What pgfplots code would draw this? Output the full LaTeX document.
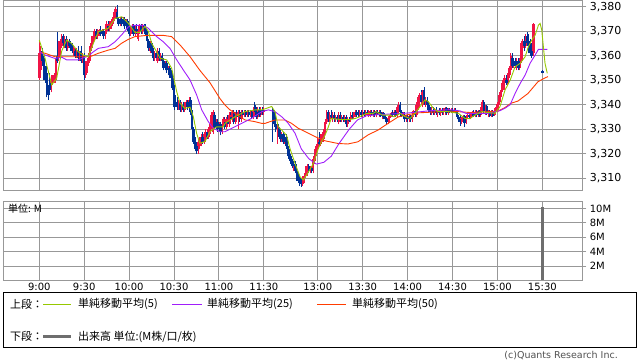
\documentclass[border=0pt]{standalone}
\usepackage{fontspec}
\usepackage{pgfplots}
\usepackage{pgfplotstable}
\pgfplotsset{compat=1.18}
\setmainfont{DejaVu Sans}
\newfontfamily\cjk{Noto Sans CJK JP}
\definecolor{cup}{RGB}{240,20,70}
\definecolor{cdown}{RGB}{0,50,150}
\definecolor{ma5}{RGB}{150,200,0}
\definecolor{ma25}{RGB}{160,30,250}
\definecolor{ma50}{RGB}{255,60,0}
\definecolor{gridc}{RGB}{152,152,152}
\definecolor{volc}{RGB}{110,110,110}
\definecolor{copyc}{RGB}{80,80,80}

\pgfplotstableread{
t o h l c
0 3351 3366 3350 3361
1 3354 3364 3352 3362
2 3362 3363 3356 3358
3 3359 3360 3350 3351
4 3352 3356 3349 3350
5 3353 3356 3343 3345
6 3346 3348 3342 3344
7 3349 3353 3344 3346
8 3347 3352 3345 3350
9 3349 3352 3348 3351
10 3350 3353 3349 3352
11 3350 3359 3349 3358
12 3360 3369.5 3357 3358
13 3359 3366 3358 3365
14 3361 3367 3360 3366
15 3364 3369 3363 3368
16 3368 3369 3364 3365
17 3364 3368 3363 3367
18 3367 3368 3362 3363
19 3363 3367 3362 3366
20 3366 3367 3363 3364
21 3365 3366 3362 3363
22 3363 3365 3361 3362
23 3362 3364 3360 3363
24 3362 3363 3359 3360
25 3360 3363 3359 3362
26 3362 3364 3358 3359
27 3359 3362 3358 3361
28 3362 3364 3357 3358
29 3358 3361 3357 3360
30 3360 3361 3350 3352
31 3352 3358 3351 3356
32 3355 3359 3353 3358
33 3357 3361 3356 3360
34 3359 3365 3358 3364
35 3363 3368 3362 3367
36 3366 3369 3365 3368
37 3367 3371 3366 3370
38 3370 3371 3367 3368
39 3368 3371 3367 3370
40 3369 3371 3368 3370.5
41 3370 3372 3368 3369
42 3369 3371 3368 3370
43 3370 3371 3367 3368
44 3368 3371 3367 3370
45 3370 3374 3369 3373
46 3372 3374 3370 3371
47 3371 3374 3370 3373
48 3372 3375 3371 3374
49 3373 3376 3372 3375
50 3375 3379 3374 3378
51 3376 3380 3375 3379
52 3378 3380.5 3374 3375
53 3375 3376 3372 3373
54 3373 3376 3372 3375
55 3375 3376 3372 3373
56 3373 3376 3372 3375
57 3375 3376 3371 3372
58 3372 3375 3371 3374
59 3374 3375 3370 3371
60 3371 3373 3368 3369
61 3369 3372 3368 3371
62 3371 3373 3369 3372
63 3372 3373 3368 3369
64 3369 3372 3368 3371
65 3371 3373 3369 3370
66 3367 3372 3366 3371
67 3371 3373 3369 3372
68 3372 3373 3369 3370
69 3370 3373 3369 3372
70 3372 3373 3370 3371
71 3371 3373 3368 3369
72 3369 3370 3365 3366
73 3366 3367 3362 3363
74 3362 3366 3361 3365
75 3365 3366 3361 3362
76 3362 3363 3358 3359
77 3359 3362 3358 3361
78 3361 3362 3358 3359
79 3358 3363 3357 3362
80 3362 3363 3358 3359
81 3359 3361 3358 3360
82 3360 3361 3357 3358
83 3358 3359 3354 3355
84 3355 3358 3354 3357
85 3357 3358 3353 3354
86 3354 3356 3352 3355
87 3355 3356 3351 3352
88 3352 3354 3350 3351
89 3351 3353 3346 3347
90 3347 3348 3338 3339
91 3341 3344 3339 3340
92 3341 3343 3338 3339
93 3339 3342 3338 3341
94 3341 3342 3337 3338
95 3338 3341 3337 3340
96 3340 3341 3337 3338
97 3338 3341 3337 3340
98 3340 3342 3339 3341
99 3341 3342 3338 3339
100 3339 3343 3338 3342
101 3342 3343 3336 3337
102 3337 3338 3329 3330
103 3330 3331 3324 3325
104 3325 3327 3321 3322
105 3323 3325 3320 3321
106 3321 3326 3320 3325
107 3323 3327 3322 3326
108 3324 3328 3323 3327
109 3327 3329 3324 3325
110 3325 3329 3324 3328
111 3326 3330 3325 3329
112 3329 3330 3326 3327
113 3327 3331 3326 3330
114 3329 3333 3328 3332
115 3331 3337 3330 3336
116 3329 3338 3328 3337
117 3336 3337 3330 3331
118 3331 3334 3330 3333
119 3333 3334 3329 3330
120 3330 3333 3329 3332
121 3332 3333 3327.5 3329
122 3329 3333 3328 3332
123 3332 3335 3331 3334
124 3333 3335 3330 3331
125 3331 3335 3330 3334
126 3333 3336 3331 3332
127 3332 3337 3331 3336
128 3335 3337 3333 3334
129 3334 3338 3333 3337
130 3337 3338 3332 3333
131 3333 3337 3332 3336
132 3336 3338 3334 3335
133 3335 3338 3330 3337
134 3337 3338 3333 3334
135 3334 3338 3333 3337
136 3337 3338 3335 3336
137 3336 3338 3335 3337
138 3337 3338 3335 3336
139 3336 3338 3335 3337
140 3337 3338 3335 3336
141 3336 3338 3335 3337
142 3337 3338 3334 3335
143 3335 3339 3334 3338
144 3340 3341 3336 3337
145 3337 3339 3334 3335
146 3335 3339 3334 3338
147 3338 3339 3335 3336
148 3336 3339 3335 3338
149 3338 3339 3336 3337
150 3337 3339 3336 3338
156 3338 3339 3325 3333
157 3337 3338 3331 3332
158 3332 3334 3329 3330
159 3330 3332 3324 3331
160 3331 3332 3327 3328
161 3328 3330 3325 3326
162 3326 3329 3325 3328
163 3328 3329 3324 3325
164 3325 3328 3324 3327
165 3327 3328 3322 3323
166 3323 3325 3319 3320
167 3320 3322 3317 3318
168 3319 3320 3316 3317
169 3317 3318 3314 3315
170 3315 3317 3313 3316
171 3316 3317 3312 3313
172 3313 3314 3309 3310
173 3310 3312 3308 3309
174 3310 3311 3307 3308
175 3308 3310 3306.5 3307.5
176 3307.5 3311 3307 3310
177 3309 3312 3308 3311
178 3311 3315 3310 3314
179 3312 3316 3311 3315
180 3315 3316 3312 3313
181 3313 3315 3312 3314
182 3314 3315 3312 3313
183 3313 3319 3312 3318
184 3317 3322 3316 3321
185 3320 3324 3319 3323
186 3322 3327 3321 3326
187 3325 3329 3323 3324
188 3324 3328 3323 3327
189 3326 3329 3325 3328
190 3326 3330 3325 3329
191 3329 3334 3328 3333
192 3333 3338 3332 3337
193 3337 3338 3333 3334
194 3334 3337 3333 3336
195 3336 3338 3334 3335
196 3335 3337 3333 3336
197 3336 3337 3333 3334
198 3334 3336 3333 3335
199 3335 3336 3333 3334
200 3333 3337 3332 3336
201 3336 3337 3333 3334
202 3334 3336 3333 3335
203 3335 3336 3333 3334
204 3334 3336 3333 3335
205 3335 3336 3331 3332
206 3332 3335 3331 3334
207 3334 3335 3333 3333.5
208 3334 3337 3333 3336
209 3336 3337 3334 3335
210 3335 3337 3334 3336
211 3336 3338 3335 3337
212 3337 3338 3335 3336
213 3337 3338 3335 3336
214 3336 3338 3335 3337
215 3337 3338 3335 3336
216 3336 3338 3335 3337
217 3337 3338 3335 3336
218 3336 3338 3335 3337
219 3337 3338 3336 3336.5
220 3336 3338 3335 3337
221 3336 3338 3335 3337.5
222 3337 3338 3336 3336.5
223 3336 3338 3335 3337
224 3337 3338 3335 3336
225 3336 3338 3335 3337.5
226 3337 3338 3336 3336.5
227 3336 3338 3335 3337
228 3337 3338 3335 3335.5
229 3335.5 3337 3334 3336.5
230 3336.5 3337 3334 3335
231 3335 3336 3333 3334
232 3334 3335 3332 3333
233 3333 3335 3332 3334.5
234 3334.5 3336 3333 3335.5
235 3335.5 3337 3335 3336.5
236 3336.5 3338 3335 3336
237 3336 3338 3335 3337
238 3337 3338 3335 3336
239 3336 3340 3335 3339
240 3337 3341 3336 3340
241 3340 3341 3336 3337
242 3337 3338 3335 3335.5
243 3335.5 3337 3334 3336
244 3336 3337 3333 3334
245 3334 3336 3333 3335
246 3335 3336 3333 3334
247 3334 3336 3333 3335.5
248 3335.5 3336 3333 3334
249 3334 3337 3333 3336
250 3336 3338 3335 3337.5
251 3337.5 3338 3335 3336
252 3336 3341 3335 3340
253 3339 3344 3338 3343
254 3342 3345 3339 3344
255 3344 3346 3340 3341
256 3340 3346 3339 3345
257 3346 3347.4 3340 3341
258 3341 3343 3339 3342
259 3342 3343 3339 3340
260 3340 3341 3337 3338
261 3338 3339 3336 3337
262 3337 3339 3336 3338
263 3338 3339 3336 3336.5
264 3336.5 3338.5 3336 3338
265 3338 3339 3336 3336.5
266 3336.5 3338 3335 3337.5
267 3337.5 3338.5 3336 3336.5
268 3336.5 3338.5 3335.5 3338
269 3338 3338.5 3336 3337
270 3337 3338.5 3336 3338
271 3337 3339 3336 3338.5
272 3338.5 3339 3336 3336.5
273 3336.5 3338.5 3336 3338
274 3338 3338.5 3336.5 3337
275 3337 3338.5 3336.5 3338
276 3338 3338.5 3336.5 3337
277 3337 3338.5 3336.5 3338
278 3338 3338.5 3336.5 3337
279 3337 3338 3334 3335
280 3335 3336 3333 3334
281 3334 3336 3331.5 3333
282 3333 3335 3332 3334.5
283 3334.5 3336 3333.5 3335.5
284 3335.5 3336 3331 3332.5
285 3333 3336 3332 3335
286 3335 3337 3334 3336
287 3336 3337 3334 3335
288 3335 3337 3334 3336.5
289 3336 3337.5 3335 3337
290 3337 3338 3335 3335.5
291 3335.5 3338 3335 3337
292 3337 3338 3335 3336
293 3336 3338 3335 3337.5
294 3337.5 3338 3335 3336
295 3336 3339 3335 3338.5
296 3338 3342 3337 3341
297 3341 3342 3336.5 3337.5
298 3337.5 3340 3336 3339.5
299 3339.5 3340 3336 3336.5
300 3336.5 3338 3335 3337.5
301 3337.5 3338 3335 3335.5
302 3335.5 3338 3335 3337
303 3337 3338 3335 3335.5
304 3336 3338.5 3335.5 3337.5
305 3337.5 3339 3336 3338.5
306 3338 3341 3337 3340.5
307 3340 3344 3339 3343.5
308 3343 3346 3341 3345
309 3345 3349 3344 3348
310 3347 3351 3346 3350
311 3349 3352 3346 3351
312 3350 3352 3348 3349
313 3349 3353 3348 3352
314 3352 3356 3351 3355
315 3354 3361 3353 3360
316 3359 3361 3355 3356
317 3356 3359 3355 3358
318 3358 3359 3355 3356
319 3355 3359 3354 3358
320 3358 3359 3354 3355
321 3355 3359 3354 3358
322 3358 3366 3357 3365
323 3363 3367 3361 3366
324 3366 3368 3362 3364
325 3364 3369 3363 3368
326 3368 3369.5 3364 3365
327 3366 3369 3361 3362
328 3364 3367 3360 3361
329 3362 3365 3359 3360
330 3361 3373.5 3360 3373
336 3353.8 3354 3352.8 3353
}\candles

\begin{document}
\begin{tikzpicture}
\useasboundingbox (0pt,0pt) rectangle (638pt,-362pt);
\pgfplotsset{
  panel/.style={
    scale only axis, width=579pt, xmin=-24.05, xmax=362.7,
    axis line style={gridc, line width=1pt},
    grid=major, grid style={gridc, line width=1pt},
    xtick={0,30,60,90,120,150,186,216,246,276,306,336},
    tick align=outside, major tick length=4pt,
    ytick pos=right, yticklabel pos=right,
    xtick style={draw=none}, ytick style={gridc, line width=1pt},
    /pgf/number format/assume math mode=true,
    clip=true,
  },
}
\begin{axis}[panel, at={(3.3pt,-0.5pt)}, anchor=north west, height=190.2pt,
  ymin=3304.94, ymax=3382.53, ytick={3310,3320,...,3380},
  xticklabels={},
  yticklabel style={font=\fontsize{11}{12}\selectfont, /pgf/number format/1000 sep={,}},
]
% wicks up
\addplot[draw=none, mark=none, forget plot,
  error bars/.cd, y dir=plus, y explicit, error mark=none,
  error bar style={draw=cup, line width=0.9pt}]
  table[x=t, y expr={\thisrow{c}>\thisrow{o} ? \thisrow{l} : nan},
        y error expr={\thisrow{h}-\thisrow{l}}] {\candles};
% wicks down
\addplot[draw=none, mark=none, forget plot,
  error bars/.cd, y dir=plus, y explicit, error mark=none,
  error bar style={draw=cdown, line width=0.9pt}]
  table[x=t, y expr={\thisrow{c}>\thisrow{o} ? nan : \thisrow{l}},
        y error expr={\thisrow{h}-\thisrow{l}}] {\candles};
% bodies up
\addplot[draw=none, mark=none, forget plot,
  error bars/.cd, y dir=plus, y explicit, error mark=none,
  error bar style={draw=cup, line width=2.4pt}]
  table[x=t, y expr={\thisrow{c}>\thisrow{o} ? \thisrow{o} : nan},
        y error expr={\thisrow{c}-\thisrow{o}}] {\candles};
% bodies down
\addplot[draw=none, mark=none, forget plot,
  error bars/.cd, y dir=plus, y explicit, error mark=none,
  error bar style={draw=cdown, line width=2.4pt}]
  table[x=t, y expr={\thisrow{c}>\thisrow{o} ? nan : \thisrow{c}},
        y error expr={\thisrow{o}-\thisrow{c}}] {\candles};
% MA50
\addplot[ma50, line width=0.9pt, mark=none] coordinates {
(0,3361.6)(3.8,3361)(10.5,3359.6)(26,3359.6)(33.9,3359.6)(39.4,3361)(46.1,3362.3)(50.6,3363)(55,3365.1)(59.5,3366.7)(63.9,3367.8)(71.7,3368.3)(82.9,3368.3)(88.4,3367.8)(94,3364.4)(100.7,3359.6)(107.3,3354)(114,3349)(120.7,3342.5)(124,3339.9)(127.4,3337.9)(130.7,3336.5)(137.4,3333.8)(144.1,3333.1)(148.6,3332.4)(150.8,3332.4)(157.4,3333.8)(164,3333.8)(168.5,3332.4)(173,3330.4)(179.7,3328.4)(184.2,3327)(190.8,3325.3)(199.5,3324.2)(206.2,3324)(212.9,3324.9)(219.6,3327.7)(226.3,3329.7)(233,3332.4)(239.6,3335)(246.3,3336)(253,3336.7)(275,3337.4)(288.5,3336.8)(306.4,3337.4)(310.9,3338.8)(315,3340.6)(319.7,3341.5)(326.4,3344.6)(333.1,3349.4)(337.6,3350.9)(339.8,3351.5)};
% MA25
\addplot[ma25, line width=0.9pt, mark=none] coordinates {
(0,3361.6)(3.8,3360.3)(10.5,3358.9)(15,3359.4)(18.3,3358.3)(26,3358.3)(32.7,3359.9)(36.1,3361.6)(39.4,3363)(46.1,3363.7)(50.6,3365.7)(55,3368.5)(59.5,3371.8)(63.9,3372.4)(69.5,3372.4)(72.8,3371.2)(78.4,3367.8)(82.8,3365.7)(87.3,3363)(91.8,3358.3)(96.2,3354.2)(100.7,3350.1)(105.1,3344)(108.5,3337.9)(112.9,3333.1)(116.2,3330.4)(120.7,3329)(124,3329)(128.5,3330.4)(135.2,3332.4)(141.9,3334.5)(148.6,3337.2)(153,3337.9)(157.4,3337.2)(161.9,3335.1)(166.3,3332.4)(170.8,3328.4)(175,3322)(180,3318)(185,3315.8)(190,3316.5)(195,3319)(200,3324)(207,3330)(212.5,3333.8)(218.5,3335.5)(227,3336)(244,3336.5)(260,3337.5)(274,3338)(281,3337.5)(285,3336.5)(300,3336.5)(304.4,3337.2)(307.8,3337.6)(311.1,3338.6)(314.5,3340)(317.8,3344.6)(321.2,3348.7)(324.5,3352.1)(327.8,3356.9)(331.2,3360.3)(333.4,3362.6)(339.3,3362.6)};
% MA5
\addplot[ma5, line width=0.9pt, mark=none] coordinates {
(0,3366.4)(3.8,3359)(8.3,3348.1)(11.6,3350.8)(15,3362)(18.3,3366.4)(21.6,3365)(26,3361.6)(29.4,3360.3)(32.7,3359.6)(36.1,3365)(39.4,3369.8)(46.1,3371.2)(50.6,3375.2)(55,3375.9)(59.5,3373.2)(63.9,3369.5)(67,3369.5)(70.6,3372)(72.8,3370)(75.1,3365)(78.4,3361.6)(80.6,3359)(85.1,3358.3)(88.4,3354.9)(90.6,3348.7)(91.8,3345.3)(94,3340.6)(97.3,3338.5)(100.7,3339)(102.9,3335.1)(105.1,3328.3)(107.3,3324.3)(110.7,3325)(114,3329)(118.5,3331)(122.9,3331)(124,3332.4)(130.7,3335.1)(137.4,3337.2)(144.1,3337.9)(148.6,3337.9)(152,3338.6)(155.2,3339.3)(157.4,3337.2)(159.6,3331)(161.9,3329.7)(165.2,3327.5)(167.4,3322.2)(170.8,3316.1)(174.2,3310.6)(176.4,3309.3)(179.7,3312.5)(183.1,3316.1)(186.4,3322.2)(188.5,3325)(190.8,3327.5)(192.5,3330)(195,3334.4)(201,3334)(207.6,3334)(211,3334.4)(214,3335.1)(218.7,3336.5)(223,3336.5)(225,3337.2)(229,3335.8)(234,3335.8)(237,3335.1)(241,3336.5)(244.5,3335.1)(247.7,3334.4)(251,3336.5)(254.3,3339.2)(257.6,3342)(259.8,3341.3)(263.2,3338.6)(266.5,3337.2)(273.2,3337.2)(279.9,3336.5)(284.4,3334.4)(287.7,3334.4)(291,3335.8)(295.5,3337.2)(300,3336.8)(304.4,3336.5)(307.7,3339.2)(311.1,3346)(314.5,3350)(317.8,3355.5)(321.2,3356.9)(324.5,3359.6)(326.7,3363.7)(329,3366.4)(331.2,3368.4)(333.4,3372.5)(334.5,3373.2)(335.6,3370.5)(336.7,3363.7)(337.8,3356.9)(339.3,3352.8)};
\end{axis}

\begin{axis}[panel, at={(3.3pt,-201pt)}, anchor=north west, height=79.4pt,
  ymin=0, ymax=11.03, ytick={2,4,6,8,10}, yticklabels={2M,4M,6M,8M,10M},
  yticklabel style={font=\fontsize{10}{12}\selectfont},
  xticklabels={9:00,9:30,10:00,10:30,11:00,11:30,13:00,13:30,14:00,14:30,15:00,15:30},
  xticklabel style={font=\fontsize{10}{12}\selectfont, yshift=5pt},
]
\addplot[ybar, bar width=2.5pt, fill=volc, draw=none] coordinates {(336,10.24)};
\end{axis}

\node[anchor=west, inner sep=0pt] at (8pt,-208.5pt) {\cjk\fontsize{10}{12}\selectfont 単位: M};

% legend box
\draw[black, line width=0.8pt] (3.5pt,-292pt) rectangle (636pt,-347pt);
\node[anchor=west, inner sep=0pt] at (10pt,-304pt) {\cjk\fontsize{11}{12}\selectfont 上段：};
\draw[ma5, line width=1pt] (43pt,-304pt) -- (71pt,-304pt);
\node[anchor=west, inner sep=0pt] at (78pt,-304pt) {\cjk\fontsize{11}{12}\selectfont 単純移動平均(5)};
\draw[ma25, line width=1pt] (172pt,-304pt) -- (202pt,-304pt);
\node[anchor=west, inner sep=0pt] at (207pt,-304pt) {\cjk\fontsize{11}{12}\selectfont 単純移動平均(25)};
\draw[ma50, line width=1pt] (317pt,-304pt) -- (346pt,-304pt);
\node[anchor=west, inner sep=0pt] at (352pt,-304pt) {\cjk\fontsize{11}{12}\selectfont 単純移動平均(50)};
\node[anchor=west, inner sep=0pt] at (10pt,-336.5pt) {\cjk\fontsize{11}{12}\selectfont 下段：};
\draw[volc, line width=3pt] (43pt,-336.5pt) -- (71pt,-336.5pt);
\node[anchor=west, inner sep=0pt] at (78pt,-336.5pt) {\cjk\fontsize{11}{12}\selectfont 出来高 単位:(M株/口/枚)};
\node[anchor=east, inner sep=0pt, text=copyc] at (618pt,-356pt) {\fontsize{9.5}{10}\selectfont (c)Quants Research Inc.};
\end{tikzpicture}
\end{document}
